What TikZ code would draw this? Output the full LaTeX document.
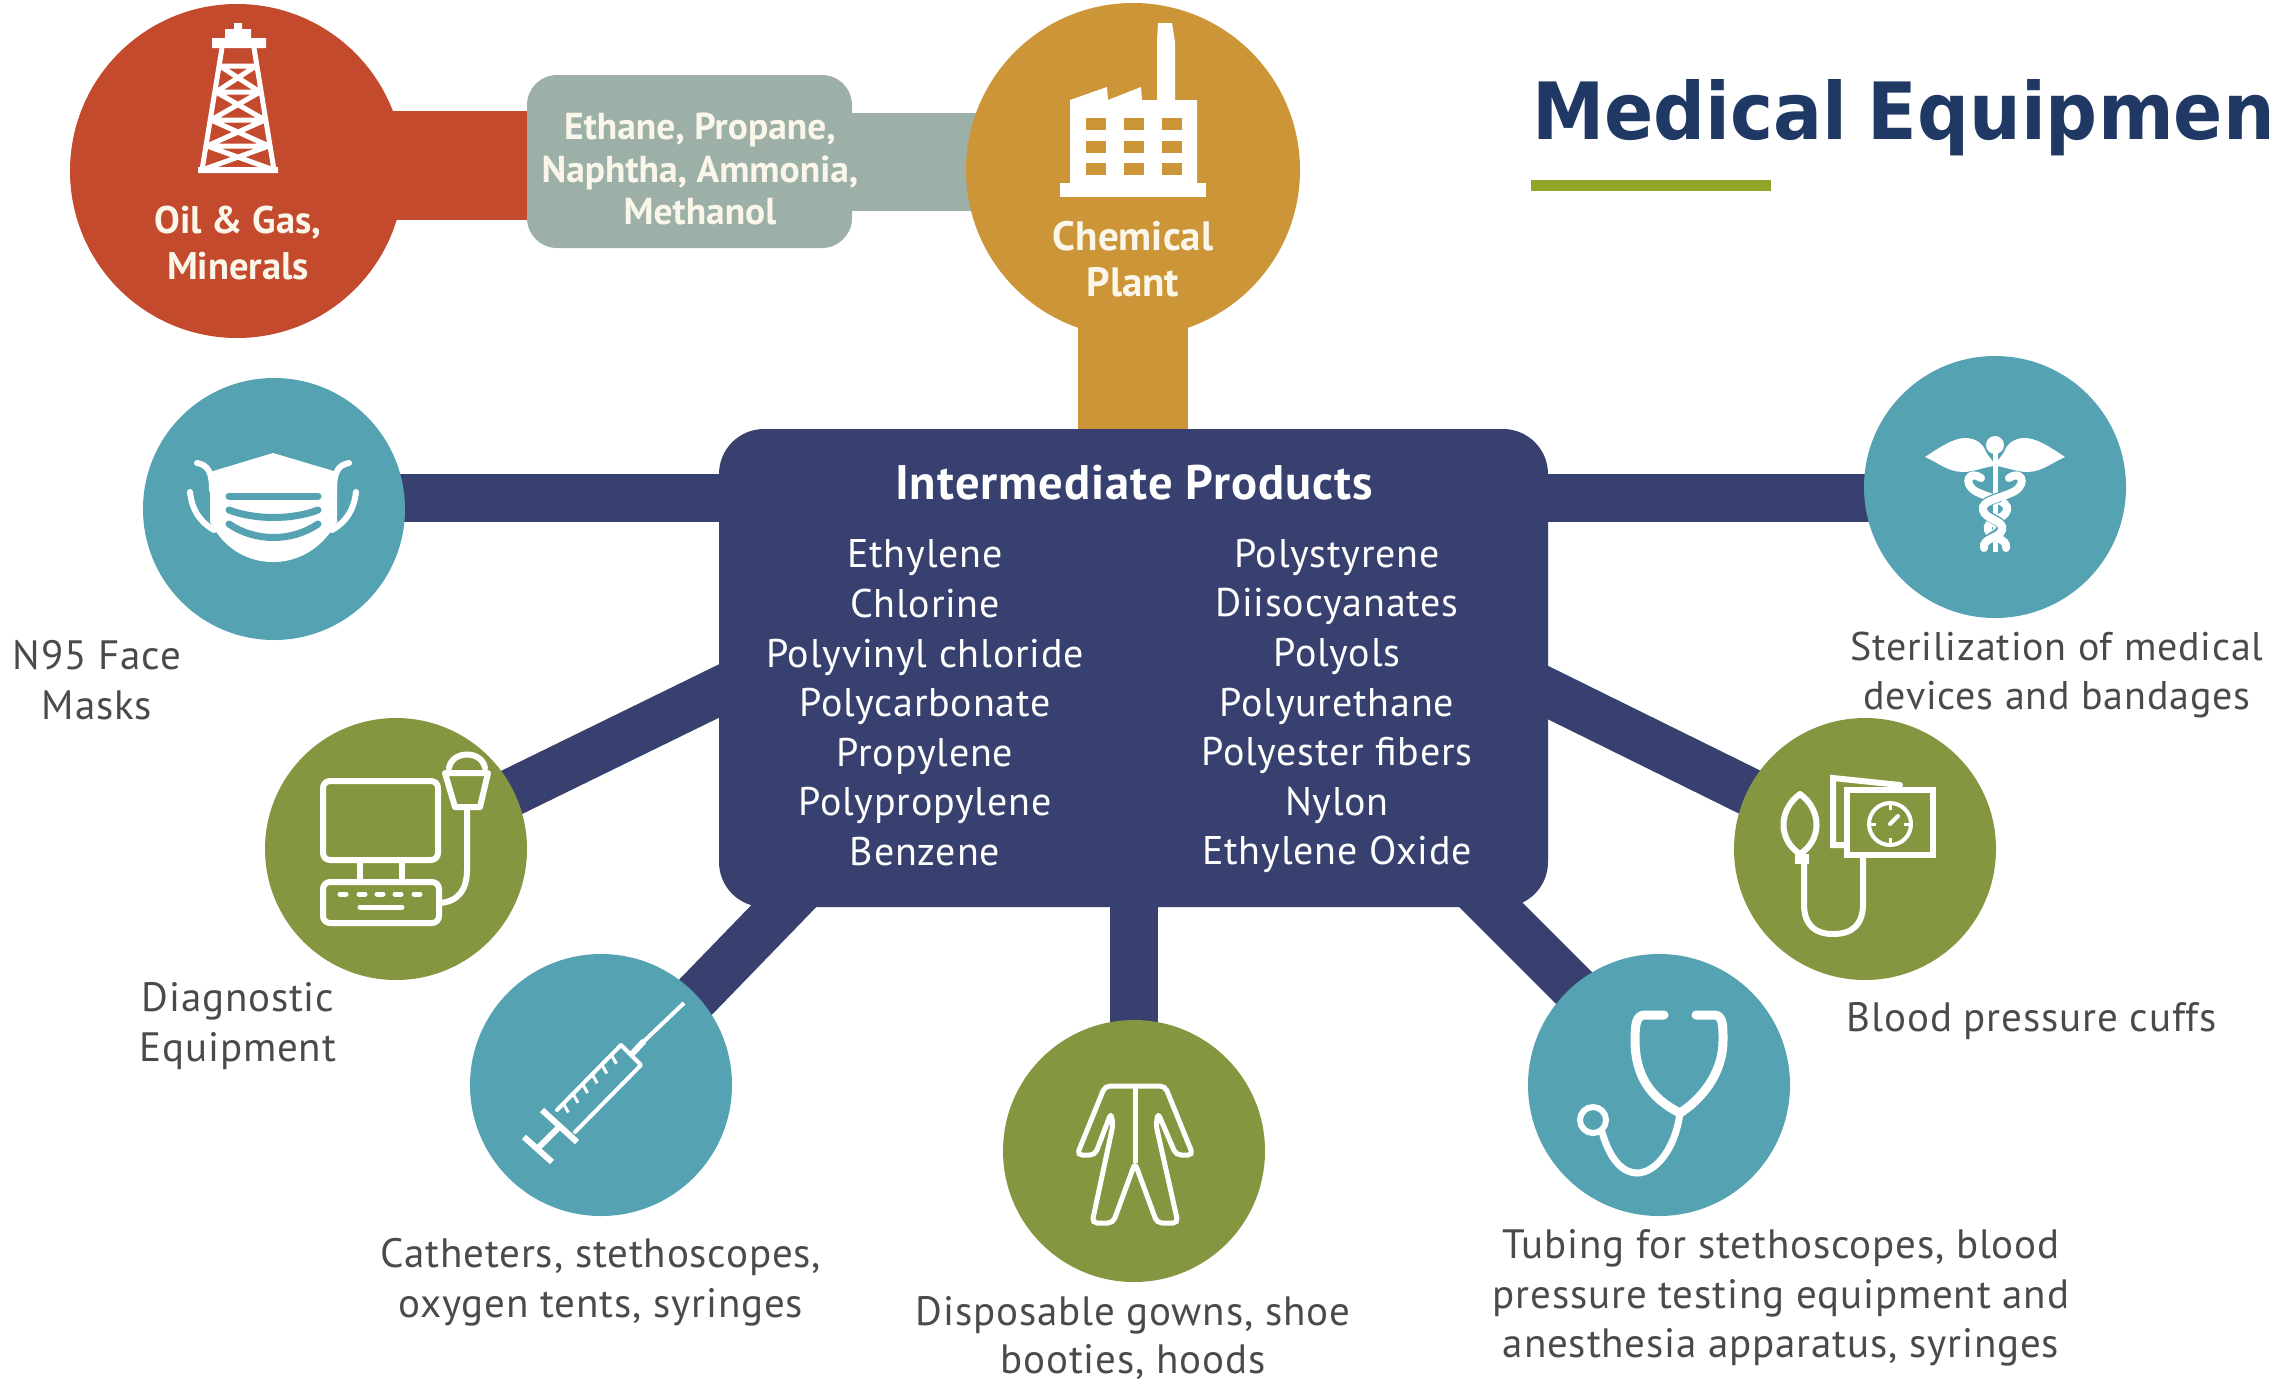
\documentclass[tikz,border=0pt]{standalone}
\usepackage{fontspec}
\setmainfont{PT Sans}[LetterSpace=2]
\newfontfamily\condfont{PT Sans}
\newfontfamily\titlefont{DejaVu Sans}
\usetikzlibrary{backgrounds,calc}
\definecolor{cred}{HTML}{C34A2D}
\definecolor{corange}{HTML}{CC9638}
\definecolor{cgray}{HTML}{9DB0A8}
\definecolor{cnavy}{HTML}{38406F}
\definecolor{cteal}{HTML}{55A2B2}
\definecolor{cgreen}{HTML}{84963F}
\definecolor{ctitle}{HTML}{1F3864}
\definecolor{cunder}{HTML}{93A528}
\definecolor{clabel}{HTML}{4A4A4A}
\definecolor{ccream}{HTML}{FBF6EA}
\tikzset{
  disc/.style={circle,inner sep=0pt,minimum size=262pt,draw=none},
  bigdisc/.style={circle,inner sep=0pt,minimum size=334pt,draw=none},
  bar/.style={draw=cnavy,line width=48pt},
  lbl/.style={text=clabel,align=center,inner sep=0pt,font=\fontsize{41}{49.6}\selectfont},
  prod/.style={text=white,align=center,inner sep=0pt,font=\fontsize{40}{49.6}\selectfont},
  toplbl/.style={text=ccream,align=center,inner sep=0pt,font=\condfont\bfseries\fontsize{38.5}{46}\selectfont},
  ico/.style={draw=white,line width=6pt,line join=round,line cap=round},
  thin ico/.style={draw=white,line width=4pt,line join=round,line cap=round},
}
\begin{document}
\begin{tikzpicture}[x=1pt,y=-1pt]
\useasboundingbox (0,0) rectangle (2272,1379);
\clip (0,0) rectangle (2272,1379);
% main nodes
\node[bigdisc,fill=cred] (oil) at (237,171) {};
\node[bigdisc,fill=corange] (plant) at (1133,170) {};
\node[fill=cgray,rounded corners=30pt,minimum width=325pt,minimum height=173pt,inner sep=0pt] (feed) at (689.5,161.5) {};
\node[fill=cnavy,rounded corners=45pt,minimum width=829pt,minimum height=478pt,inner sep=0pt] (box) at (1133.5,668) {};
\node[disc,fill=cteal] (mask) at (274,509) {};
\node[disc,fill=cteal] (cad) at (1995,487) {};
\node[disc,fill=cgreen] (diag) at (396,849) {};
\node[disc,fill=cgreen] (bp) at (1865,849) {};
\node[disc,fill=cteal] (syr) at (601,1085) {};
\node[disc,fill=cgreen] (gown) at (1134,1151) {};
\node[disc,fill=cteal] (steth) at (1659,1085) {};
\coordinate (ly) at (0,498);
\coordinate (dl) at (860,622);
\coordinate (dr) at (1405,622);
\coordinate (sl) at (872,815);
\coordinate (sle) at (656,1038);
\coordinate (sr) at (1400,814);
\coordinate (sre) at (1640,1054);
\begin{scope}[on background layer]
  \fill[cred] (oil.center |- 0,111) rectangle (feed.center |- 0,220);
  \fill[cgray] (feed.center |- 0,113) rectangle (plant.center |- 0,211);
  \fill[corange] (1078,170) rectangle (1188,440);
  \draw[bar] (mask.center |- ly) -- (box.center |- ly);
  \draw[bar] (cad.center |- ly) -- (box.center |- ly);
  \draw[bar] (diag.center) -- (dl);
  \draw[bar] (bp.center) -- (dr);
  \draw[bar] (sle) -- (sl);
  \draw[bar] (sre) -- (sr);
  \draw[bar] (gown.center) -- (gown.center |- box.center);
\end{scope}
% title
\node[anchor=base west,inner sep=0pt,text=ctitle,font=\titlefont\bfseries\fontsize{79}{90}\selectfont] (title) at (1532,139) {\scalebox{.92}[1]{Medical\hspace{-6pt} Equipmen}};
\fill[cunder] (1531,180) rectangle (1771,191);
% top labels
\node[toplbl] (oiltxt) at (238,243) {Oil \& Gas,\\Minerals};
\node[toplbl,font=\condfont\bfseries\fontsize{41}{46}\selectfont] (planttxt) at (1133,259) {Chemical\\Plant};
\node[toplbl,font=\condfont\bfseries\fontsize{37.5}{42.5}\selectfont] (feedtxt) at (700,169) {Ethane, Propane,\\Naphtha, Ammonia,\\Methanol};
% central text
\node[text=white,inner sep=0pt,font=\bfseries\fontsize{48.5}{50}\selectfont] (head) at (1134,483) {Intermediate Products};
\node[prod] (cola) at (925,703) {Ethylene\\Chlorine\\Polyvinyl chloride\\Polycarbonate\\Propylene\\Polypropylene\\Benzene};
\node[prod] (colb) at (1337,706) {Polystyrene\\Diisocyanates\\Polyols\\Polyurethane\\Polyester fibers\\Nylon\\Ethylene Oxide};
% outer labels
\node[lbl] (l1) at (97,680) {N95 Face\\Masks};
\node[lbl,font=\fontsize{40}{49.6}\selectfont] (l2) at (2057,675) {Sterilization of medical\\devices and bandages};
\node[lbl] (l3) at (238,1026) {Diagnostic\\Equipment};
\node[lbl] (l4) at (2032,1021) {Blood pressure cuffs};
\node[lbl] (l5) at (601,1282) {Catheters, stethoscopes,\\oxygen tents, syringes};
\node[lbl,font=\fontsize{41}{48}\selectfont] (l6) at (1133,1338) {Disposable gowns, shoe\\booties, hoods};
\node[lbl] (l7) at (1781,1298) {Tubing for stethoscopes, blood\\pressure testing equipment and\\anesthesia apparatus, syringes};
% derrick
\fill[white] (234,23) rectangle (242,30) (225,29) rectangle (251,39) (212,38) rectangle (266,48) (198,167) rectangle (278,173);
\draw[draw=white,line width=5pt] (222,48) -- (202,170) (254,48) -- (274,170)
  (220,66) -- (256,66) (216,92) -- (260,92) (211,120) -- (265,120) (207,146) -- (269,146)
  (220,66) -- (260,92) (256,66) -- (216,92) (216,92) -- (265,120) (260,92) -- (211,120)
  (211,120) -- (269,146) (265,120) -- (207,146) (207,146) -- (274,170) (269,146) -- (202,170);
% factory
\fill[white] (1060,183) rectangle (1206,197);
\fill[white] (1070,187) -- (1070,100) -- (1107,87) -- (1108,100) -- (1141,87) -- (1142,100) -- (1157,100) -- (1157,42) -- (1158,23) -- (1172,23) -- (1175,42) -- (1175,100) -- (1197,100) -- (1197,187) -- cycle;
\foreach \xx in {1086,1124,1162}{\foreach \yy in {118,141,163}{\fill[corange] (\xx,\yy) rectangle +(19.5,11.5);}}
% mask
\fill[white] (273,453) -- (337,472) -- (337,522) .. controls (320,552) and (295,562) .. (273,562) .. controls (251,562) and (226,552) .. (210,522) -- (210,472) -- cycle;
\draw[ico] (197,463) .. controls (208,465) and (212,472) .. (212,490);
\draw[ico] (349,463) .. controls (338,465) and (334,472) .. (334,490);
\draw[ico] (190,492) .. controls (192,510) and (200,522) .. (214,530);
\draw[ico] (356,492) .. controls (354,510) and (346,522) .. (332,530);
\draw[draw=cteal,line width=7pt,line cap=round] (229,496) -- (318,496);
\draw[draw=cteal,line width=7pt,line cap=round] (229,510) .. controls (255,520) and (292,520) .. (318,510);
\draw[draw=cteal,line width=7pt,line cap=round] (229,524) .. controls (255,542) and (292,542) .. (318,524);
% diagnostic
\draw[ico,rounded corners=7pt] (323,781) rectangle (438,860);
\draw[ico] (360,860) -- (360,882) (402,860) -- (402,882);
\draw[ico,rounded corners=7pt] (323,882) rectangle (439,923);
\foreach \xx in {343,362,380,398,417}{\draw[draw=white,line width=5pt,line cap=round] (\xx-3,894) -- (\xx+3,894);}
\draw[draw=white,line width=5pt,line cap=round] (360,907) -- (402,907);
\draw[ico] (439,903) .. controls (458,902) and (467,890) .. (467,870) -- (467,807);
\draw[ico] (445,773) -- (488,773) -- (480,807) -- (455,807) -- cycle;
\draw[ico] (449,768) .. controls (452,750) and (482,750) .. (485,768);
% syringe
\draw[thin ico] (557,1110) -- (621,1045) -- (641,1065) -- (575,1132);
\draw[ico,line cap=butt] (542,1110) -- (577,1142);
\draw[ico,line cap=butt] (560,1126) -- (536,1150);
\draw[ico,line cap=butt] (524,1137) -- (552,1162);
\draw[ico,line cap=butt] (631,1055) -- (644,1041);
\draw[thin ico,line cap=butt] (640,1045) -- (684,1003);
\foreach \tt in {0.1,0.25,0.4,0.55,0.7,0.85}{\draw[draw=white,line width=3pt] ($(557,1110)!\tt!(621,1045)$) -- +(5,9);}
% gown
\draw[draw=white,line width=5pt,rounded corners=5pt] (1105,1086) -- (1165,1086) -- (1193,1155) -- (1176,1155) -- (1158,1113) -- (1156,1125) -- (1178,1223) -- (1157,1223) -- (1135,1163) -- (1113,1223) -- (1092,1223) -- (1113,1125) -- (1111,1113) -- (1095,1155) -- (1077,1155) -- cycle;
\draw[draw=white,line width=5pt] (1135,1086) -- (1135,1163);
% blood pressure
\draw[ico] (1800,794) .. controls (1778,810) and (1778,840) .. (1800,854) .. controls (1822,840) and (1822,810) .. (1800,794) -- cycle;
\fill[white] (1795,854) rectangle (1809,864);
\draw[ico] (1804,864) -- (1804,904) .. controls (1804,925) and (1815,934) .. (1833,934) .. controls (1852,934) and (1863,925) .. (1863,904) -- (1863,855);
\draw[ico,line join=miter] (1847,845) -- (1833,845) -- (1833,778) -- (1900,785);
\draw[ico,line join=miter] (1847,790) rectangle (1933,855);
\draw[thin ico] (1890,824) circle (21);
\draw[thin ico] (1890,824) -- (1898,816);
\foreach \aa in {0,90,180,270}{\draw[draw=white,line width=3pt] (1890,824) ++(\aa:21) -- ++(\aa+180:7);}
% caduceus
\fill[white] (1995,445) circle (9);
\fill[white] (1925,457) .. controls (1940,447) and (1955,437) .. (1967,438) .. controls (1977,439) and (1983,444) .. (1986,452) .. controls (1988,456) and (1991,458) .. (1993,462) -- (1993,466) .. controls (1982,468) and (1972,472) .. (1963,472) .. controls (1948,472) and (1937,462) .. (1925,457) -- cycle;
\fill[white] (2065,457) .. controls (2050,447) and (2035,437) .. (2023,438) .. controls (2013,439) and (2007,444) .. (2004,452) .. controls (2002,456) and (1999,458) .. (1997,462) -- (1997,466) .. controls (2008,468) and (2018,472) .. (2027,472) .. controls (2042,472) and (2053,462) .. (2065,457) -- cycle;
\draw[draw=white,line width=5pt] (1995,450) -- (1995,552);
\draw[draw=white,line width=8pt,line cap=round] (1981,478) .. controls (1970,470) and (1962,482) .. (1975,491) .. controls (1990,499) and (2009,500) .. (2007,510) .. controls (2005,520) and (1985,520) .. (1988,530) .. controls (1990,538) and (2008,538) .. (2006,548);
\draw[draw=cteal,line width=10pt] (2000,497) .. controls (1990,500) and (1982,503) .. (1983,510) .. controls (1985,518) and (2002,520) .. (2002,527) .. controls (2002,533) and (1992,536) .. (1988,540);
\draw[draw=white,line width=8pt,line cap=round] (2009,478) .. controls (2020,470) and (2028,482) .. (2015,491) .. controls (2000,499) and (1981,500) .. (1983,510) .. controls (1985,520) and (2005,520) .. (2002,530) .. controls (2000,538) and (1982,538) .. (1984,548);
% stethoscope
\draw[draw=white,line width=9pt,line cap=round,line join=round] (1664,1015) -- (1645,1015) .. controls (1636,1015) and (1635,1025) .. (1635,1040) .. controls (1635,1075) and (1650,1098) .. (1680,1113) .. controls (1700,1100) and (1723,1075) .. (1723,1040) .. controls (1723,1025) and (1723,1015) .. (1714,1015) -- (1696,1015);
\draw[draw=white,line width=7pt,line cap=round] (1680,1113) .. controls (1675,1150) and (1655,1173) .. (1637,1173) .. controls (1623,1173) and (1610,1160) .. (1602,1132);
\draw[draw=white,line width=6pt] (1593,1120) circle (13);
\end{tikzpicture}
\end{document}
